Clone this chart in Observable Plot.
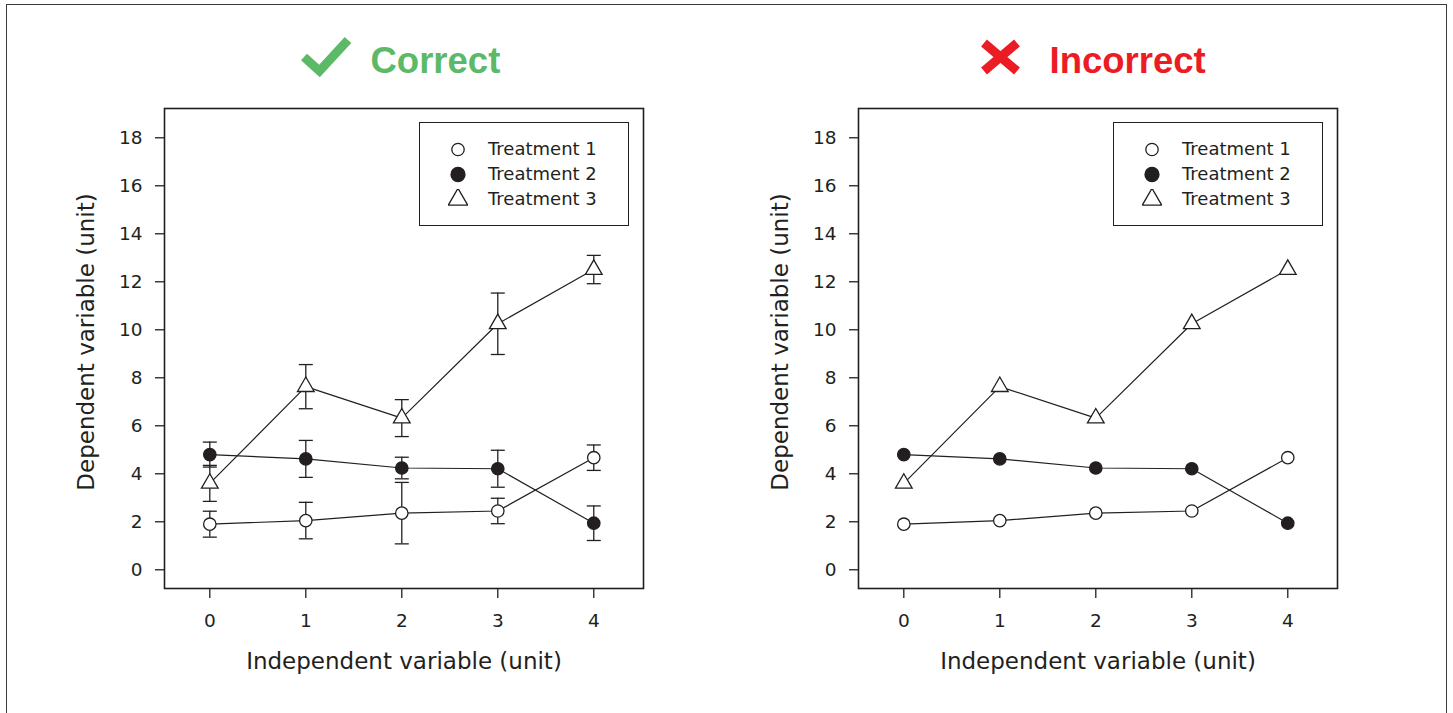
<!DOCTYPE html>
<html><head><meta charset="utf-8">
<script src="https://cdn.jsdelivr.net/npm/d3@7"></script>
<script src="https://cdn.jsdelivr.net/npm/@observablehq/plot@0.6"></script>
<style>
html,body{margin:0;padding:0;background:#fff}
body{width:1453px;height:713px;overflow:hidden;position:relative;font-family:"DejaVu Sans",sans-serif;color:#231f20}
#border{position:absolute;left:6px;top:4px;width:1439px;height:780px;border:1.6px solid #3a3a3a}
.panel{position:absolute;top:0}
.legend{position:absolute;left:419px;top:122px;width:208px;height:102px;border:1.2px solid #231f20;background:#fff}
.legend .row{position:absolute;left:0;width:208px;height:20px}
.legend .txt{position:absolute;left:68px;top:0;line-height:20px;font-size:18px;white-space:nowrap}
.legend svg{position:absolute;left:28px;top:0}
#titles{position:absolute;left:0;top:0}
</style></head><body>
<div id="border"></div>
<svg id="titles" width="1453" height="100"></svg>
<div id="left" class="panel" style="left:0px"></div>
<div id="right" class="panel" style="left:694px"></div>
<script>
// ---- data ----
const xValues = [0, 1, 2, 3, 4];
const seriesNames = ["Treatment 1", "Treatment 2", "Treatment 3"];
const t1Mean = [1.90, 2.05, 2.36, 2.45, 4.67];
const t1Err  = [0.54, 0.76, 1.28, 0.53, 0.53];
const t2Mean = [4.80, 4.62, 4.24, 4.21, 1.94];
const t2Err  = [0.52, 0.77, 0.45, 0.77, 0.72];
const t3Mean = [3.60, 7.63, 6.32, 10.25, 12.51];
const t3Err  = [0.75, 0.92, 0.77, 1.28, 0.59];
const xTicks = [0, 1, 2, 3, 4];
const yTicks = [0, 2, 4, 6, 8, 10, 12, 14, 16, 18];
const xLabel = "Independent variable (unit)";
const yLabel = "Dependent variable (unit)";
const panelTitles = ["Correct", "Incorrect"];

const ink = "#231f20";
const green = "#5cb967";
const red = "#ec1c24";

const means = [t1Mean, t2Mean, t3Mean];
const errs = [t1Err, t2Err, t3Err];
const data = [];
seriesNames.forEach((s, i) => xValues.forEach((x, j) => {
  data.push({series: s, x, y: means[i][j], lo: means[i][j] - errs[i][j], hi: means[i][j] + errs[i][j]});
}));
const caps = data.flatMap(d => [{x: d.x, y: d.lo}, {x: d.x, y: d.hi}]);

const capSymbol = {draw(ctx, size) { const w = Math.sqrt(size / Math.PI); ctx.moveTo(-w, 0); ctx.lineTo(w, 0); }};
const styles = [
  {symbol: "circle", fill: "#fff"},
  {symbol: "circle", fill: ink},
  {symbol: "triangle", fill: "#fff"}
];

function makePlot(withErrors) {
  const marks = [
    Plot.frame({stroke: ink, strokeWidth: 1.6}),
    Plot.axisX({ticks: xTicks, tickFormat: d3.format("d"), tickSize: 10, tickPadding: 15, label: null, strokeWidth: 1.3, fontSize: 18.5}),
    Plot.axisY({ticks: yTicks, tickFormat: d3.format("d"), tickSize: 9, tickPadding: 13, label: null, strokeWidth: 1.3, fontSize: 18.5}),
    Plot.text([yLabel], {text: d => d, frameAnchor: "left", rotate: -90, dx: -78, dy: -6.5, lineAnchor: "middle", textAnchor: "middle", fontSize: 23}),
    Plot.text([xLabel], {text: d => d, frameAnchor: "bottom", dy: 80, lineAnchor: "bottom", textAnchor: "middle", fontSize: 23}),
    Plot.line(data, {x: "x", y: "y", z: "series", stroke: ink, strokeWidth: 1.2})
  ];
  if (withErrors) {
    marks.push(Plot.ruleX(data, {x: "x", y1: "lo", y2: "hi", stroke: ink, strokeWidth: 1.3}));
    marks.push(Plot.dot(caps, {x: "x", y: "y", symbol: capSymbol, r: 7, stroke: ink, strokeWidth: 1.3, fill: "none"}));
  }
  seriesNames.forEach((s, i) => {
    marks.push(Plot.dot(data.filter(d => d.series === s), {x: "x", y: "y", r: 6.2, symbol: styles[i].symbol, fill: styles[i].fill, stroke: ink, strokeWidth: 1.3}));
  });
  return Plot.plot({
    width: 700, height: 713,
    marginLeft: 164, marginRight: 57, marginTop: 108, marginBottom: 125,
    x: {domain: [-0.472, 4.518]},
    y: {domain: [-0.78, 19.22]},
    style: {color: ink, fontFamily: "DejaVu Sans, sans-serif", fontSize: "18.5px", background: "transparent", overflow: "visible"},
    marks
  });
}

function makeLegend() {
  const box = document.createElement("div");
  box.className = "legend";
  const rowsY = [26, 51, 76];
  const legendR = [6.2, 7, 7.2];
  seriesNames.forEach((s, i) => {
    const row = document.createElement("div");
    row.className = "row";
    row.style.top = (rowsY[i] - 10) + "px";
    const sym = d3.create("svg").attr("width", 20).attr("height", 20);
    const shape = styles[i].symbol === "circle" ? d3.symbolCircle : d3.symbolTriangle;
    sym.append("path").attr("transform", "translate(10,10.5)")
      .attr("d", d3.symbol(shape, Math.PI * legendR[i] * legendR[i])())
      .attr("fill", styles[i].fill).attr("stroke", ink).attr("stroke-width", 1.3);
    row.appendChild(sym.node());
    const t = document.createElement("div");
    t.className = "txt"; t.textContent = s;
    row.appendChild(t);
    box.appendChild(row);
  });
  return box;
}

const left = document.getElementById("left");
left.appendChild(makePlot(true));
left.appendChild(makeLegend());
const right = document.getElementById("right");
right.appendChild(makePlot(false));
right.appendChild(makeLegend());

// titles with icons
const t = d3.select("#titles");
t.append("polyline").attr("points", "304,57 319.5,71 348,40")
  .attr("fill", "none").attr("stroke", green).attr("stroke-width", 9).attr("stroke-linejoin", "miter");
t.append("text").attr("x", 370.5).attr("y", 73).attr("fill", green)
  .attr("font-family", "Liberation Sans, Arial, sans-serif").attr("font-weight", "bold").attr("font-size", 36.5)
  .text(panelTitles[0]);
t.append("path").attr("d", "M984,43L1017,71M1017,43L984,71")
  .attr("fill", "none").attr("stroke", red).attr("stroke-width", 9);
t.append("text").attr("x", 1049.5).attr("y", 73).attr("fill", red)
  .attr("font-family", "Liberation Sans, Arial, sans-serif").attr("font-weight", "bold").attr("font-size", 36.5)
  .text(panelTitles[1]);
</script>
</body></html>
